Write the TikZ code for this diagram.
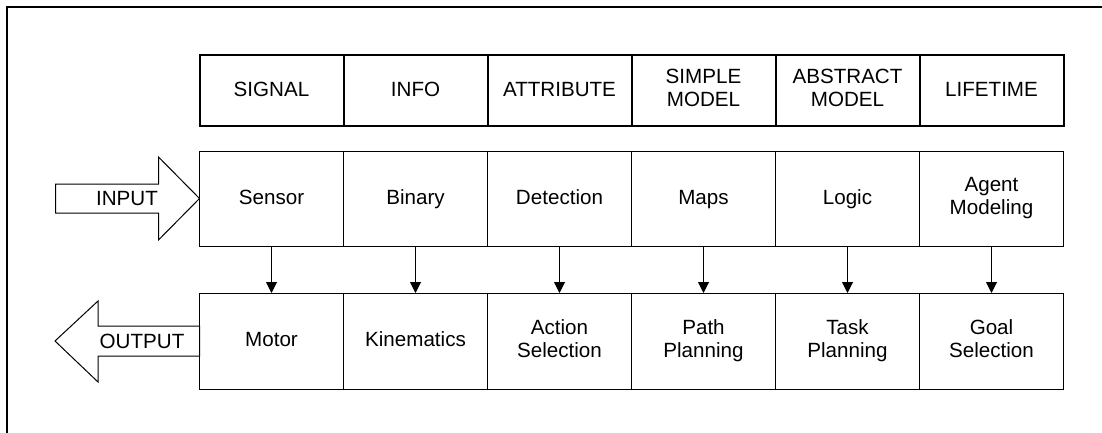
\documentclass[tikz,border=0pt]{standalone}
\usepackage{fontspec}
\setmainfont{Liberation Sans}
\usepackage{tikz}
\usetikzlibrary{positioning}
\usetikzlibrary{arrows.meta}
\newcommand{\rowstrut}{\rule[-2.65pt]{0pt}{11.2pt}}

\begin{document}
\begin{tikzpicture}[node distance = 54pt and 72pt, on grid, line width=0.5pt, >={Triangle[length=5.5pt,width=5.5pt]}, font=\fontsize{10.3}{11.2}\selectfont, box/.style ={rectangle, draw, fill = white, align=center, outer sep=0pt, minimum width=72pt, execute at begin node=\rowstrut, execute at end node=\rowstrut}, head/.style={box, line width=1pt, minimum height=35.5pt}, mid/.style={box, minimum height=47.5pt}, low/.style={box, minimum height=48pt}]
\useasboundingbox (0,0) rectangle (551pt,-216.5pt);
\draw[line width=0.9pt] (3.5pt,-216.5pt) -- (3.5pt,-3.5pt) -- (551pt,-3.5pt);
% level headers
\node[head] (signal) at (135.75pt,-45.25pt) {SIGNAL};
\node[head] (info) [right = of signal] {INFO};
\node[head] (attribute) [right = of info] {ATTRIBUTE};
\node[head] (simple) [right = of attribute] {SIMPLE\\MODEL};
\node[head] (abstract) [right = of simple] {ABSTRACT\\MODEL};
\node[head] (lifetime) [right = of abstract] {LIFETIME};
% perception row
\node[mid] (sensor) [below = of signal] {Sensor};
\node[mid] (binary) [right = of sensor] {Binary};
\node[mid] (detection) [right = of binary] {Detection};
\node[mid] (maps) [right = of detection] {Maps};
\node[mid] (logic) [right = of maps] {Logic};
\node[mid] (agent) [right = of logic] {Agent\\Modeling};
% action row
\node[low] (motor) [below = 71.25pt of sensor] {Motor};
\node[low] (kinematics) [right = of motor] {Kinematics};
\node[low] (action) [right = of kinematics] {Action\\Selection};
\node[low] (path) [right = of action] {Path\\Planning};
\node[low] (task) [right = of path] {Task\\Planning};
\node[low] (goal) [right = of task] {Goal\\Selection};
\path[->] (sensor) edge (motor)
(binary) edge (kinematics)
(detection) edge (action)
(maps) edge (path)
(logic) edge (task)
(agent) edge (goal);
% block arrows
\draw[fill=white] (sensor.west) -- ++(-20.5pt,20.75pt) -- ++(0,-13.5pt) -- ++(-51.5pt,0) -- ++(0,-14.5pt) -- ++(51.5pt,0) -- ++(0,-13.5pt) -- cycle;
\node (in) at ([xshift=-36.25pt]sensor.west) {INPUT};
\draw[fill=white] ([yshift=7.5pt]motor.west) -- ++(-50.75pt,0) -- ++(0,12.5pt) -- ++(-21.5pt,-20pt) -- ++(21.5pt,-20.5pt) -- ++(0,13pt) -- ++(50.75pt,0) -- cycle;
\node (out) at ([xshift=-28.75pt]motor.west) {OUTPUT};
\end{tikzpicture}
\end{document}
